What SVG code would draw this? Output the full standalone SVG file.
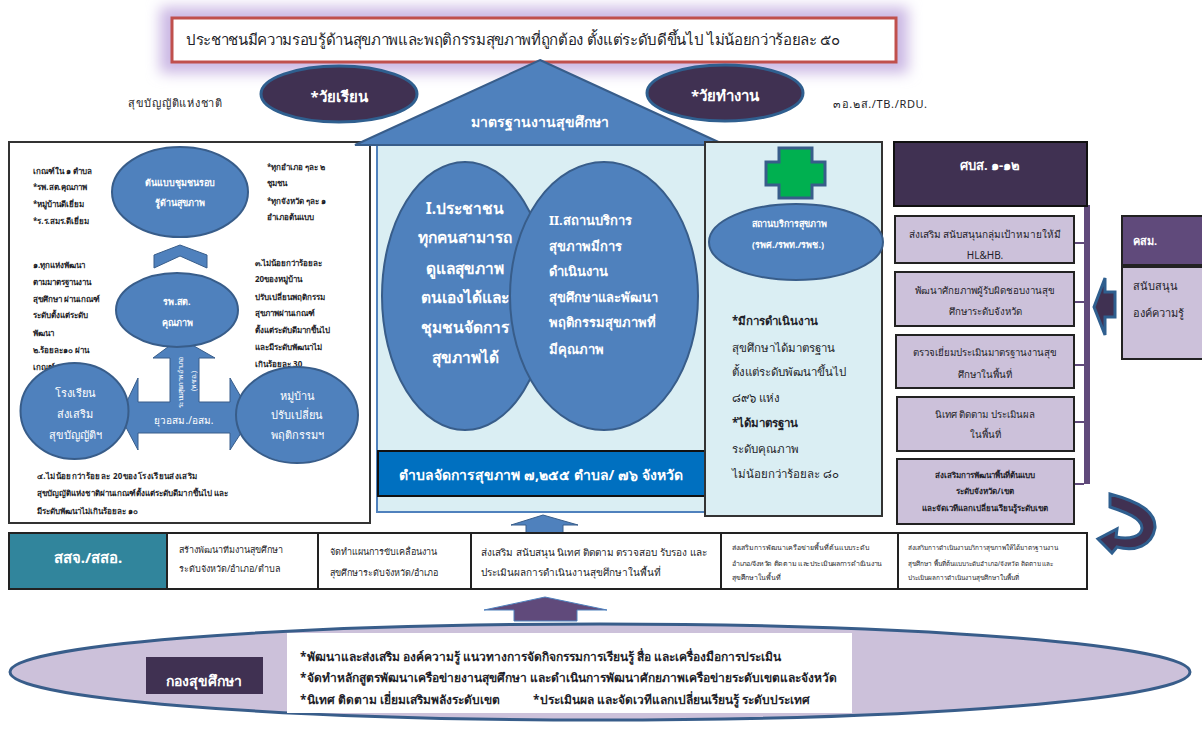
<svg xmlns="http://www.w3.org/2000/svg" width="1202" height="749" viewBox="0 0 1202 749">
<style>
text{font-family:"Noto Sans","Liberation Sans","DejaVu Sans",sans-serif;fill:#1f1f2a}
.w{fill:#fff}.b{font-weight:700}.m{text-anchor:middle}
.el{fill:#4F81BD;stroke:#385D8A;stroke-width:2}
.dark{fill:#403152;stroke:#2F5F8F;stroke-width:3}
.box{fill:#CCC1DA;stroke:#222;stroke-width:2}
.cell{fill:#fff;stroke:#222;stroke-width:2}
.panel{fill:#DAEEF3}
.s6{font-size:6.400px}.s7{font-size:7px}.s8{font-size:8px}.s9{font-size:9px}.s97{font-size:9.700px}.s10{font-size:10px}.s11{font-size:11px}.s115{font-size:11.500px}.s12{font-size:12px}.s13{font-size:13px}.s14{font-size:14px}.s15{font-size:15px}.s155{font-size:15.500px}.s16{font-size:16px}
</style>
<defs><filter id="glow" x="-10%" y="-80%" width="120%" height="260%"><feGaussianBlur stdDeviation="7"/></filter></defs>
<rect width="1202" height="749" fill="#fff"/>

<g id="goal">
<rect x="160" y="7" width="748" height="66" fill="#CBB8E4" filter="url(#glow)"/>
<rect x="172" y="18" width="724" height="44" fill="#fff" stroke="#C0504D" stroke-width="3"/>
<text x="186" y="45" class="s15" textLength="654">ประชาชนมีความรอบรู้ด้านสุขภาพและพฤติกรรมสุขภาพที่ถูกต้อง ตั้งแต่ระดับดีขึ้นไป ไม่น้อยกว่าร้อยละ ๕๐</text>
</g>
<g id="age-school"><ellipse cx="339" cy="94" rx="78" ry="28" class="dark"/><text x="339" y="102" class="w b m s15">*วัยเรียน</text></g>
<g id="age-work"><ellipse cx="725" cy="93" rx="78" ry="28" class="dark"/><text x="725" y="101" class="w b m s15">*วัยทำงาน</text></g>
<text id="label-national" x="128" y="107" class="s11" textLength="94">สุขบัญญัติแห่งชาติ</text>
<text id="label-3a" x="833" y="108" class="s11" textLength="94">๓อ.๒ส./TB./RDU.</text>

<g id="left-panel">
<rect x="9" y="142" width="361" height="381" fill="#fff" stroke="#333" stroke-width="2"/>
<g class="s8 b">
<text x="33" y="174">เกณฑ์ใน ๑ ตำบล</text><text x="33" y="190">*รพ.สต.คุณภาพ</text><text x="33" y="207">*หมู่บ้านดีเยี่ยม</text><text x="33" y="224">*ร.ร.สมร.ดีเยี่ยม</text>
<text x="267" y="170">*ทุกอำเภอ ๆละ ๒</text><text x="267" y="186">ชุมชน</text><text x="267" y="204">*ทุกจังหวัด ๆละ ๑</text><text x="267" y="220">อำเภอต้นแบบ</text>
<text x="33" y="268">๑.ทุกแห่งพัฒนา</text><text x="33" y="285">ตามมาตรฐานงาน</text><text x="33" y="302">สุขศึกษา ผ่านเกณฑ์</text><text x="33" y="318">ระดับตั้งแต่ระดับ</text><text x="33" y="336">พัฒนา</text><text x="33" y="353">๒.ร้อยละ๑๐ ผ่าน</text><text x="33" y="370">เกณฑ์คุณภาพ</text>
<text x="255" y="266">๓.ไม่น้อยกว่าร้อยละ</text><text x="255" y="282">20ของหมู่บ้าน</text><text x="255" y="300">ปรับเปลี่ยนพฤติกรรม</text><text x="255" y="316">สุขภาพผ่านเกณฑ์</text><text x="255" y="333">ตั้งแต่ระดับดีมากขึ้นไป</text><text x="255" y="350">และมีระดับพัฒนาไม่</text><text x="255" y="367">เกินร้อยละ 30</text>
<text x="37" y="479" textLength="160">๔.ไม่น้อยกว่าร้อยละ 20ของโรงเรียนส่งเสริม</text><text x="37" y="496" textLength="191">สุขบัญญัติแห่งชาติผ่านเกณฑ์ตั้งแต่ระดับดีมากขึ้นไป และ</text><text x="37" y="514">มีระดับพัฒนาไม่เกินร้อยละ ๑๐</text>
</g>
</g>
<g id="connectors">
<polygon points="154,268 154,255 180,245 207,255 207,268 180,256" fill="#4F81BD" stroke="#385D8A"/>
<path d="M180,338 215,358 199,358 199,402 230,402 230,378 252,416 230,450 230,433 138,433 138,450 120,416 138,378 138,402 170,402 170,358 153,358Z" fill="#4F81BD" stroke="#385D8A"/>
<path d="M543,515 578,525 563,525 563,533 526,533 526,525 511,525Z" fill="#4F81BD" stroke="#385D8A"/>
<path d="M545,597 607,610 577,610 577,621 514,621 514,610 484,610Z" fill="#604A7B" stroke="#4F81BD"/>
<path d="M1084,205h6v279h-6z" fill="#604A7B"/>
<path d="M1074,243h10M1074,302h10M1074,365h10M1072,422h12M1072,484h12" stroke="#604A7B" stroke-width="2" fill="none"/>
<path d="M1094,307 1105,278 1105,292 1115,292 1115,317 1105,317 1105,335Z" class="dark"/>
<path d="M1110,494C1140,502 1156,512 1155,528C1152,546 1135,552 1117,547L1112,553 1098,539 1117,529 1116,537C1130,540 1142,536 1142,528C1142,518 1125,512 1110,507Z" class="dark"/>
</g>
<text id="arrow-label-v1" transform="translate(183,408) rotate(-90)" class="w s7" textLength="51">ระบบสุขภาพอำเภอ</text>
<text id="arrow-label-v2" transform="translate(196,391) rotate(-90)" class="w s7">(พชอ.)</text>
<text id="arrow-label-h" x="184" y="424" class="w m s10">ยุวอสม./อสม.</text>

<g id="node-model"><ellipse cx="180" cy="192" rx="68" ry="45" class="el"/><text x="180" y="186" class="w b m s9">ต้นแบบชุมชนรอบ</text><text x="180" y="206" class="w b m s9">รู้ด้านสุขภาพ</text></g>
<g id="node-hospital"><ellipse cx="177" cy="310" rx="61" ry="37" class="el"/><text x="177" y="305" class="w b m s9">รพ.สต.</text><text x="177" y="326" class="w b m s9">คุณภาพ</text></g>
<g id="node-school"><ellipse cx="74.500" cy="411" rx="54" ry="48" class="el"/><text x="75" y="397" class="w m s11">โรงเรียน</text><text x="75" y="418" class="w m s11">ส่งเสริม</text><text x="75" y="439" class="w m s11">สุขบัญญัติฯ</text></g>
<g id="node-village"><ellipse cx="297" cy="415" rx="61" ry="48" class="el"/><text x="297" y="400" class="w m s11">หมู่บ้าน</text><text x="297" y="419" class="w m s11">ปรับเปลี่ยน</text><text x="297" y="439" class="w m s11">พฤติกรรมฯ</text></g>

<g id="center-panel">
<rect x="377" y="143" width="328" height="369" class="panel" stroke="#4F81BD" stroke-width="2"/>
</g>
<g id="standard"><polygon points="540,60 725,145 355,145" fill="#4F81BD" stroke="#385D8A" stroke-width="2"/><text x="540" y="127" class="w b m s14">มาตรฐานงานสุขศึกษา</text></g>
<g id="node-people"><ellipse cx="465" cy="296" rx="83" ry="134" class="el"/>
<text x="465" y="214" class="w b m s155">I.ประชาชน</text><text x="465" y="243" class="w b m s155">ทุกคนสามารถ</text><text x="465" y="274" class="w b m s155">ดูแลสุขภาพ</text><text x="465" y="303" class="w b m s155">ตนเองได้และ</text><text x="465" y="333" class="w b m s155">ชุมชนจัดการ</text><text x="465" y="363" class="w b m s155">สุขภาพได้</text></g>
<g id="node-service"><ellipse cx="604" cy="296" rx="94" ry="134" class="el"/>
<text x="549" y="225" class="w b s13">II.สถานบริการ</text><text x="549" y="251" class="w b s13">สุขภาพมีการ</text><text x="549" y="276" class="w b s13">ดำเนินงาน</text><text x="549" y="302" class="w b s13">สุขศึกษาและพัฒนา</text><text x="549" y="327" class="w b s13">พฤติกรรมสุขภาพที่</text><text x="549" y="354" class="w b s13">มีคุณภาพ</text></g>
<g id="subdistrict"><rect x="378" y="451" width="327" height="45" fill="#0070C0" stroke="#111" stroke-width="2"/><text x="541" y="480" class="w b m s14">ตำบลจัดการสุขภาพ ๗,๒๕๕ ตำบล/ ๗๖ จังหวัด</text></g>

<g id="right-panel"><rect x="705" y="142" width="177" height="374" class="panel" stroke="#333" stroke-width="2"/>
<text x="732" y="325" class="b s115">*มีการดำเนินงาน</text><text x="732" y="352" class="s115">สุขศึกษาได้มาตรฐาน</text><text x="732" y="376" class="s115">ตั้งแต่ระดับพัฒนาขึ้นไป</text><text x="732" y="402" class="s115">๘๙๖ แห่ง</text><text x="732" y="427" class="b s115">*ได้มาตรฐาน</text><text x="732" y="453" class="s115">ระดับคุณภาพ</text><text x="732" y="478" class="s115">ไม่น้อยกว่าร้อยละ ๘๐</text></g>
<g id="cross"><polygon points="779,148 812,148 812,162 825,162 825,185 812,185 812,198 779,198 779,185 766,185 766,162 779,162" fill="#00B050" stroke="#385D8A" stroke-width="3"/></g>
<g id="node-facility"><ellipse cx="796" cy="242" rx="87" ry="38" class="el"/><text x="789" y="227" class="w b m s9">สถานบริการสุขภาพ</text><text x="788" y="248" class="w b m s9">(รพศ./รพท./รพช.)</text></g>

<g id="odpc"><rect x="894" y="142" width="193" height="64" fill="#403152" stroke="#111" stroke-width="2"/><text x="990" y="170" class="w b m s13">ศบส. ๑-๑๒</text></g>
<g id="odpc-1"><rect x="895" y="216" width="179" height="47" class="box"/><text x="985" y="238" class="m s10">ส่งเสริม สนับสนุนกลุ่มเป้าหมายให้มี</text><text x="985" y="259" class="m s10">HL&amp;HB.</text></g>
<g id="odpc-2"><rect x="895" y="272" width="179" height="54" class="box"/><text x="985" y="294" class="m s97">พัฒนาศักยภาพผู้รับผิดชอบงานสุข</text><text x="985" y="315" class="m s97">ศึกษาระดับจังหวัด</text></g>
<g id="odpc-3"><rect x="896" y="335" width="178" height="53" class="box"/><text x="985" y="356" class="m s97">ตรวจเยี่ยมประเมินมาตรฐานงานสุข</text><text x="985" y="378" class="m s97">ศึกษาในพื้นที่</text></g>
<g id="odpc-4"><rect x="897" y="397" width="177" height="54" class="box"/><text x="985" y="418" class="m s97">นิเทศ ติดตาม ประเมินผล</text><text x="985" y="438" class="m s97">ในพื้นที่</text></g>
<g id="odpc-5"><rect x="897" y="459" width="177" height="65" class="box"/><text x="985" y="478" class="b m s8">ส่งเสริมการพัฒนาพื้นที่ต้นแบบ</text><text x="985" y="494" class="b m s8">ระดับจังหวัด/เขต</text><text x="985" y="511" class="b m s8">และจัดเวทีแลกเปลี่ยนเรียนรู้ระดับเขต</text></g>

<g id="dept"><rect x="1122" y="216" width="82" height="49" fill="#604A7B" stroke="#222" stroke-width="2"/><rect x="1122" y="267" width="82" height="92" class="box"/><text x="1133" y="245" class="w b s11">คสม.</text><text x="1133" y="290" class="s11">สนับสนุน</text><text x="1133" y="317" class="s11">องค์ความรู้</text></g>

<g id="provincial">
<rect x="9" y="533" width="158" height="56" fill="#31859C" stroke="#222" stroke-width="2"/>
<rect x="167" y="533" width="151" height="56" class="cell"/><rect x="318" y="533" width="153" height="56" class="cell"/><rect x="471" y="533" width="250" height="56" class="cell"/><rect x="721" y="533" width="177" height="56" class="cell"/><rect x="898" y="533" width="189" height="56" class="cell"/>
<text x="88" y="563" class="w b m s15">สสจ./สสอ.</text>
<text x="179" y="553" class="s9">สร้างพัฒนาทีมงานสุขศึกษา</text><text x="179" y="572" class="s9">ระดับจังหวัด/อำเภอ/ตำบล</text>
<text x="330" y="555" class="s9">จัดทำแผนการขับเคลื่อนงาน</text><text x="330" y="576" class="s9">สุขศึกษาระดับจังหวัด/อำเภอ</text>
<text x="481" y="556" class="s10">ส่งเสริม สนับสนุน นิเทศ ติดตาม ตรวจสอบ รับรอง และ</text><text x="481" y="576" class="s10">ประเมินผลการดำเนินงานสุขศึกษาในพื้นที่</text>
<text x="732" y="550" class="s7">ส่งเสริมการพัฒนาเครือข่ายพื้นที่ต้นแบบระดับ</text><text x="732" y="566" class="s7" textLength="150">อำเภอ/จังหวัด ติดตาม และประเมินผลการดำเนินงาน</text><text x="732" y="580" class="s7">สุขศึกษาในพื้นที่</text>
<text x="908" y="550" class="s6">ส่งเสริมการดำเนินงานบริการสุขภาพให้ได้มาตรฐานงาน</text><text x="908" y="566" class="s6">สุขศึกษา พื้นที่ต้นแบบระดับอำเภอ/จังหวัด ติดตาม และ</text><text x="908" y="580" class="s6">ประเมินผลการดำเนินงานสุขศึกษาในพื้นที่</text>
</g>

<g id="division">
<ellipse cx="600" cy="672" rx="590" ry="48" fill="#CCC1DA" stroke="#385D8A" stroke-width="3"/>
<rect x="287" y="633" width="565" height="80" fill="#fff"/>
<rect x="146" y="657" width="117" height="37" fill="#403152"/>
<text x="204" y="686" class="w b m s14">กองสุขศึกษา</text>
<text x="300" y="661" class="b s12">*พัฒนาและส่งเสริม องค์ความรู้ แนวทางการจัดกิจกรรมการเรียนรู้ สื่อ และเครื่องมือการประเมิน</text>
<text x="300" y="682" class="b s12">*จัดทำหลักสูตรพัฒนาเครือข่ายงานสุขศึกษา และดำเนินการพัฒนาศักยภาพเครือข่ายระดับเขตและจังหวัด</text>
<text x="300" y="704" class="b s12">*นิเทศ ติดตาม เยี่ยมเสริมพลังระดับเขต</text>
<text x="533" y="704" class="b s12">*ประเมินผล และจัดเวทีแลกเปลี่ยนเรียนรู้ ระดับประเทศ</text>
</g>
</svg>
